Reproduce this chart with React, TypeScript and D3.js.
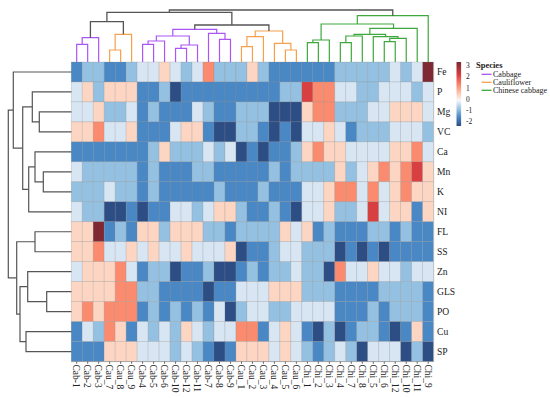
import React from "react";
import * as d3 from "d3";

const colLabels = ["Cab-1","Cab-2","Cab-3","Cau_7","Cau_8","Cau_9","Cab-4","Cab-5","Cab-6","Cab-10","Cab-12","Cab-11","Cab-7","Cab-8","Cab-9","Cau_1","Cau_2","Cau_3","Cau_4","Cau_5","Cau_6","Chi_1","Chi_2","Chi_3","Chi_4","Chi_7","Chi_8","Chi_5","Chi_6","Chi_12","Chi_10","Chi_11","Chi_9"];
const rowLabels = ["Fe","P","Mg","VC","Ca","Mn","K","NI","FL","SS","Zn","GLS","PO","Cu","SP"];

const zscores: number[][] = [
  [-1.3,-0.7,-0.7,-1.3,-1.3,-0.7,-0.2,-0.2,0.4,-0.2,-0.7,-0.2,1.2,-0.7,-0.7,-0.7,0.4,-0.7,-1.3,-1.3,-1.3,-1.3,-1.3,-1.3,-0.7,-0.7,-0.7,-0.7,-0.7,-0.2,-0.7,-0.2,3.0],
  [-0.2,0.4,-0.7,0.4,0.4,0.4,-1.3,-1.3,-0.7,-2.0,-1.3,-1.3,-1.3,-1.3,-1.3,-1.3,-1.3,-1.3,-1.3,-0.7,-0.7,2.0,1.2,1.2,-0.2,-0.2,-0.7,-0.7,-0.2,-0.2,-0.2,-0.7,-0.2],
  [-0.2,-0.2,0.4,-0.7,-0.7,-0.2,-1.3,-0.7,-1.3,-1.3,-1.3,-0.2,-0.7,-1.3,-1.3,-0.7,-0.7,-0.7,-2.0,-2.0,-2.0,0.4,1.2,1.2,-0.7,-0.7,-0.7,-0.2,-0.2,0.4,0.4,0.4,-0.2],
  [0.4,0.4,1.2,-0.2,-0.2,0.4,-1.3,-1.3,-1.3,-0.2,0.4,0.4,-1.3,-2.0,-2.0,-0.7,-0.7,-1.3,-2.0,-1.3,-2.0,-0.2,-0.2,0.4,-0.2,-1.3,-0.7,-0.7,-0.7,-0.2,-0.2,-0.2,-0.7],
  [-1.3,-1.3,-1.3,-1.3,-1.3,-1.3,-1.3,-0.7,0.4,-0.7,-0.7,-0.7,-0.2,-0.7,-0.2,-2.0,-1.3,-2.0,-1.3,-1.3,-0.7,0.4,1.2,0.4,0.4,-0.2,-0.2,-0.2,-0.2,0.4,0.4,1.2,-0.2],
  [-0.2,-0.7,-0.7,-0.7,-0.7,-0.7,-1.3,-0.7,-1.3,-1.3,-1.3,-0.7,-0.7,-1.3,-1.3,-1.3,-1.3,-1.3,-0.7,-1.3,-0.7,-0.7,-0.7,-0.7,0.4,-0.7,-0.2,0.4,1.2,0.4,1.2,2.0,0.4],
  [-0.7,-0.7,-0.7,-0.2,-0.7,-0.7,-1.3,-0.7,-1.3,-1.3,-1.3,-1.3,-1.3,-0.7,-1.3,-1.3,-1.3,-0.7,-1.3,-1.3,-1.3,-0.2,-0.2,0.4,1.2,1.2,-0.2,1.2,-0.2,0.4,1.2,0.4,0.4],
  [-0.2,-0.7,-0.7,-2.0,-2.0,-1.3,-2.0,-1.3,-1.3,-0.2,-0.2,-0.7,-0.2,0.4,0.4,-0.7,-1.3,-1.3,-0.7,-1.3,-2.0,-0.2,-0.2,0.4,-0.7,-0.7,-0.2,2.0,-0.2,0.4,0.4,-1.3,0.4],
  [0.4,0.4,3.0,-1.3,-0.7,-1.3,0.4,0.4,-0.7,0.4,0.4,0.4,-0.7,-0.7,-1.3,-0.7,-0.7,-0.7,-0.7,0.4,-0.2,0.4,-1.3,-0.7,-1.3,-1.3,-1.3,-0.7,-0.7,-1.3,-0.7,-1.3,-1.3],
  [0.4,0.4,1.2,-0.2,-0.2,0.4,-0.2,0.4,-0.2,-0.2,0.4,-0.2,-0.2,-0.2,0.4,-2.0,-1.3,-1.3,-0.7,-0.2,-0.2,-0.7,-0.7,-0.7,-2.0,-1.3,-2.0,-1.3,-2.0,-1.3,-1.3,-1.3,-1.3],
  [-0.2,0.4,0.4,0.4,1.2,-0.2,-1.3,-0.7,-0.7,-2.0,-1.3,-1.3,-0.7,-2.0,-2.0,-1.3,-0.7,-1.3,-0.7,-0.7,-0.2,-0.7,-0.7,-2.0,1.2,-0.2,-0.2,0.4,-0.2,-0.2,-0.7,-0.2,-0.2],
  [0.4,0.4,0.4,0.4,1.2,1.2,-0.7,-0.7,-1.3,-1.3,-1.3,-1.3,-2.0,-1.3,-1.3,-0.2,-0.2,-0.2,0.4,0.4,0.4,-0.7,-0.7,-0.7,-1.3,-1.3,-1.3,-1.3,-0.7,-0.7,-0.7,-0.7,-1.3],
  [0.4,1.2,0.4,1.2,1.2,1.2,-1.3,-0.7,-1.3,-0.7,-1.3,-0.7,-1.3,-0.2,-2.0,-0.7,-0.2,-0.2,-0.7,-0.7,-0.2,-0.2,-0.2,-0.2,-1.3,-1.3,-1.3,-0.7,-1.3,-0.7,-0.7,-0.7,-1.3],
  [-1.3,-0.2,-0.7,1.2,0.4,-1.3,-0.2,-0.7,-0.2,-0.7,0.4,-0.2,-0.7,-0.2,-0.2,1.2,1.2,-1.3,-0.2,0.4,-0.2,-1.3,-2.0,-0.7,-2.0,-1.3,-0.7,-0.7,-1.3,-2.0,-1.3,0.4,-1.3],
  [-1.3,-1.3,-1.3,0.4,0.4,0.4,-0.2,-0.2,-0.2,-0.7,-0.2,-0.7,-1.3,-2.0,-1.3,0.4,0.4,0.4,-0.2,0.4,-0.2,-0.7,-1.3,-0.7,-0.2,-0.7,-2.0,-0.2,-0.2,-0.2,-2.0,-0.7,-2.0],
];

const colorStops = [-2, -1.3, -0.7, -0.2, 0, 0.4, 1.2, 2, 3];
const colorRange = ["#2d4d85","#4a88c5","#94c1e1","#d8e6f4","#f7f7f7","#fdd5c3","#fb8b6e","#d83f40","#7d2832"];
const legendTicks = [3, 2, 1, 0, -1, -2];

const speciesNames = ["Cabbage", "Cauliflower", "Chinese cabbage"];
const speciesColors = ["#aa55f5", "#f6a04c", "#3ea83e"];

type TNode = { h: number; sp?: number; c: (TNode | number)[] };

const colTree: TNode = { h: 52, c: [
  { h: 49.7, c: [
    { h: 40.3, c: [
      { h: 24.3, sp: 0, c: [{ h: 17.7, c: [0, 1] }, 2] },
      { h: 27.7, sp: 1, c: [{ h: 12, c: [3, 4] }, 5] },
    ] },
    { h: 37, c: [
      { h: 32.7, sp: 0, c: [
        { h: 26, c: [ { h: 21, c: [{ h: 17.7, c: [6, 7] }, 8] }, { h: 17, c: [{ h: 13.7, c: [9, 10] }, 11] } ] },
        { h: 28.7, c: [12, { h: 22.7, c: [13, 14] }] },
      ] },
      { h: 31, sp: 1, c: [
        { h: 25.3, c: [{ h: 15.3, c: [15, 16] }, 17] },
        { h: 18.7, c: [18, { h: 12, c: [19, 20] }] },
      ] },
    ] },
  ] },
  { h: 46.3, sp: 2, c: [
    { h: 38, c: [
      { h: 22, c: [{ h: 19.3, c: [21, 22] }, 23] },
      { h: 33.7, c: [
        { h: 27.7, c: [
          { h: 26, c: [{ h: 19.3, c: [24, 25] }, 26] },
          { h: 25.3, c: [27, { h: 23.7, c: [{ h: 20.3, c: [28, 29] }, 30] }] },
        ] },
        31,
      ] },
    ] },
    32,
  ] },
] };

const rowTree: TNode = { h: 63.2, c: [
  { h: 58.2, c: [0, { h: 48.8, c: [
    { h: 39.2, c: [1, { h: 32.2, c: [2, 3] }] },
    { h: 42.8, c: [{ h: 36.5, c: [4, { h: 28.2, c: [5, 6] }] }, 7] },
  ] }] },
  { h: 54.8, c: [
    { h: 36.5, c: [8, 9] },
    { h: 51.5, c: [
      { h: 43.8, c: [10, { h: 24.8, c: [11, 12] }] },
      { h: 45.5, c: [13, 14] },
    ] },
  ] },
] };

type Seg = { d: string; color: string; w: number };

function layoutTree(
  node: TNode | number,
  leafPos: (i: number) => number,
  hPos: (h: number) => number,
  horizontal: boolean,
  color: string,
  segs: Seg[]
): { p: number; q: number } {
  if (typeof node === "number") return { p: leafPos(node), q: hPos(0) };
  const myColor = node.sp !== undefined ? speciesColors[node.sp] : color;
  const kids = node.c.map((k) => layoutTree(k, leafPos, hPos, horizontal, myColor, segs));
  const q = hPos(node.h);
  const a = kids[0], b = kids[1];
  const d = horizontal
    ? `M${a.p},${a.q}V${q}H${b.p}V${b.q}`
    : `M${a.q},${a.p}H${q}V${b.p}H${b.q}`;
  segs.push({ d, color: myColor, w: node.sp !== undefined || color !== "#555" ? 1.2 : 1.3 });
  return { p: (a.p + b.p) / 2, q };
}

export default function App() {
  const W = 550, H = 398;
  const x = d3.scaleBand<string>().domain(colLabels).range([71.2, 433.7]);
  const y = d3.scaleBand<string>().domain(rowLabels).range([62, 361.6]);
  const color = d3.scaleLinear<string>().domain(colorStops).range(colorRange).interpolate(d3.interpolateRgb).clamp(true);
  const bw = x.bandwidth(), bh = y.bandwidth();

  const topH = d3.scaleLinear().domain([0, 52]).range([62, 10]);
  const leftH = d3.scaleLinear().domain([0, 63.2]).range([71.5, 8.3]);

  const topSegs: Seg[] = [];
  layoutTree(colTree, (i) => (x(colLabels[i]) as number) + bw / 2, (h) => topH(h), true, "#555", topSegs);
  const leftSegs: Seg[] = [];
  layoutTree(rowTree, (i) => (y(rowLabels[i]) as number) + bh / 2, (h) => leftH(h), false, "#555", leftSegs);

  const barTop = 62, barBot = 126;
  const barScale = d3.scaleLinear().domain([3, -2]).range([barTop, barBot]);
  const labScale = d3.scaleLinear().domain([3, -2]).range([65.5, 121.5]);
  const serif = "'Liberation Serif', 'Times New Roman', serif";

  return (
    <svg width={W} height={H} style={{ position: "absolute", left: 0, top: 0, background: "#fff" }} fontFamily={serif}>
      <defs>
        <linearGradient id="cbar" x1="0" y1="0" x2="0" y2="1">
          {colorStops.slice().reverse().map((v, i) => (
            <stop key={i} offset={(barScale(v) - barTop) / (barBot - barTop)} stopColor={color(v)} />
          ))}
        </linearGradient>
      </defs>
      {zscores.map((row, r) =>
        row.map((v, c) => (
          <rect key={`${r}-${c}`} x={x(colLabels[c])} y={y(rowLabels[r])} width={bw} height={bh}
            fill={color(v)} stroke="rgba(140,140,140,0.45)" strokeWidth={0.5} />
        ))
      )}
      <line x1={71.2} x2={433.7} y1={361.6} y2={361.6} stroke="#999" strokeWidth={0.8} />
      <line x1={433.7} x2={433.7} y1={62} y2={361.6} stroke="#bbb" strokeWidth={0.8} />
      {colLabels.map((c) => (
        <line key={"t" + c} x1={(x(c) as number) + bw / 2} x2={(x(c) as number) + bw / 2} y1={361.6} y2={363.8} stroke="#444" strokeWidth={0.8} />
      ))}
      {topSegs.map((s, i) => (
        <path key={"ts" + i} d={s.d} fill="none" stroke={s.color} strokeWidth={s.w} />
      ))}
      {leftSegs.map((s, i) => (
        <path key={"ls" + i} d={s.d} fill="none" stroke={s.color} strokeWidth={1.2} />
      ))}
      {rowLabels.map((r) => (
        <text key={"rl" + r} x={437} y={(y(r) as number) + bh / 2} dy="0.35em" fontSize={9.6} fill="#222">{r}</text>
      ))}
      {colLabels.map((c) => (
        <text key={"cl" + c} transform={`translate(${(x(c) as number) + bw / 2},364.5) rotate(90)`} dy="0.35em" fontSize={9.5} fill="#222">{c}</text>
      ))}
      <rect x={456.5} y={barTop} width={4.6} height={barBot - barTop} fill="url(#cbar)" />
      {legendTicks.map((t) => (
        <text key={"lt" + t} x={466} y={labScale(t)} dy="0.35em" fontSize={7.5} fill="#222">{t}</text>
      ))}
      <text x={476} y={68} fontSize={8.5} fontWeight="bold" fill="#222">Species</text>
      {speciesNames.map((s, i) => (
        <g key={s}>
          <line x1={481.5} x2={491.5} y1={74.3 + i * 8} y2={74.3 + i * 8} stroke={speciesColors[i]} strokeWidth={1.3} />
          <text x={493} y={74.3 + i * 8} dy="0.35em" fontSize={8} fill="#222">{s}</text>
        </g>
      ))}
    </svg>
  );
}
